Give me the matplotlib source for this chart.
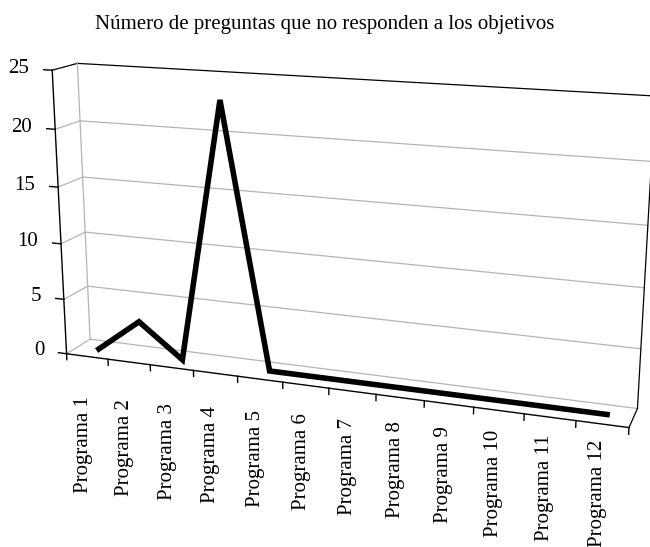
import numpy as np
import matplotlib
matplotlib.use("Agg")
import matplotlib.pyplot as plt
from mpl_toolkits.mplot3d import proj3d

plt.rcParams["font.family"] = ["Liberation Serif", "DejaVu Serif"]
plt.rcParams["font.size"] = 15

# =========================
# Data
# =========================
TITLE = "Número de preguntas que no responden a los objetivos"
categories = ["Programa 1", "Programa 2", "Programa 3", "Programa 4",
              "Programa 5", "Programa 6", "Programa 7", "Programa 8",
              "Programa 9", "Programa 10", "Programa 11", "Programa 12"]
values = [0, 3, 0, 23, 0, 0, 0, 0, 0, 0, 0, 0]
z_ticks = [0, 5, 10, 15, 20, 25]

n = len(categories)
x_pos = np.arange(1, n + 1)
x0, x1 = 0.5, n + 0.5
y0, y1 = 0.0, 1.0
z0, z1 = z_ticks[0], z_ticks[-1]
GRID = "#b4b4b4"

fig = plt.figure(figsize=(6.5, 5.47), dpi=100)
ax = fig.add_axes([0.009, 0.108, 1.0, 0.9], projection="3d")
ax.set_proj_type("persp", focal_length=0.55)
ax.view_init(elev=15, azim=-70)
ax.set_xlim(x0, x1)
ax.set_ylim(y0, y1)
ax.set_zlim(z0, z1)
ax.set_box_aspect((10.6, 0.9, 5.4), zoom=1.34)
ax.set_axis_off()

kw = dict(clip_on=False)
# walls: horizontal gridlines on back wall and side wall
for z in z_ticks:
    col = "black" if z == z1 else GRID
    ax.plot([x0, x1], [y1, y1], [z, z], color=col, lw=0.9, **kw)
    ax.plot([x0, x0], [y0, y1], [z, z], color=col, lw=0.9, **kw)
# wall edges
ax.plot([x0, x0], [y1, y1], [z0, z1], color=GRID, lw=0.9, **kw)
ax.plot([x1, x1], [y1, y1], [z0, z1], color="black", lw=0.9, **kw)
ax.plot([x1, x1], [y0, y1], [z0, z0], color="black", lw=0.9, **kw)

# value axis (front-left edge)
ax.plot([x0, x0], [y0, y0], [z0, z1], color="black", lw=1.0, **kw)
for z in z_ticks:
    ax.plot([x0, x0 - 0.2], [y0, y0], [z, z], color="black", lw=1.0, **kw)

# category axis (front floor edge)
ax.plot([x0, x1], [y0, y0], [z0, z0], color="black", lw=1.0, **kw)
for xb in np.arange(x0, x1 + 0.01, 1.0):
    ax.plot([xb, xb], [y0, y0], [z0, z0 - 0.55], color="black", lw=1.0, **kw)

# data line in the middle of the depth
ax.plot(x_pos, np.full(n, 0.5), values, color="black", lw=4,
        solid_joinstyle="miter", **kw)

# tick labels placed on screen from projected 3D anchor points
fig.canvas.draw()
M = ax.get_proj()
for z in z_ticks:
    px, py, _ = proj3d.proj_transform(x0 - 0.55, y0, z, M)
    ax.text2D(px, py, str(z), ha="right", va="center", transform=ax.transData)
gaps = np.linspace(40, 16, n)  # label drop below the axis, in pixels
for xp, lab, g in zip(x_pos, categories, gaps):
    px, py, _ = proj3d.proj_transform(xp - 0.1, y0, z0, M)
    ax.annotate(lab, xy=(px, py), xycoords="data", xytext=(0, -g),
                textcoords="offset pixels", rotation=90,
                ha="center", va="top", annotation_clip=False)

fig.text(0.5, 0.955, TITLE, ha="center", va="center", fontsize=15)

fig.savefig("out.png", dpi=100)
